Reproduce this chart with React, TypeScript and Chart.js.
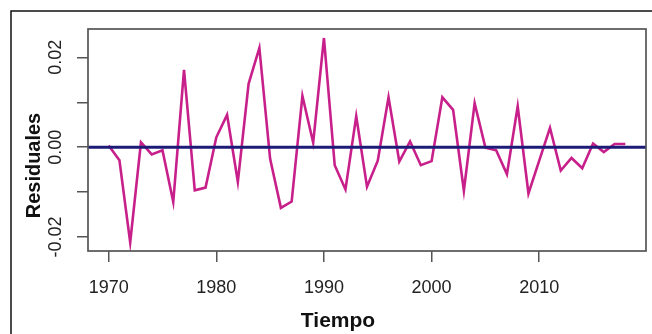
import React, { useEffect, useRef } from "react";
import { Chart, registerables } from "chart.js";

Chart.register(...registerables);

const years = [
  1970, 1971, 1972, 1973, 1974, 1975, 1976, 1977, 1978, 1979,
  1980, 1981, 1982, 1983, 1984, 1985, 1986, 1987, 1988, 1989,
  1990, 1991, 1992, 1993, 1994, 1995, 1996, 1997, 1998, 1999,
  2000, 2001, 2002, 2003, 2004, 2005, 2006, 2007, 2008, 2009,
  2010, 2011, 2012, 2013, 2014, 2015, 2016, 2017, 2018,
];

const residuals = [
  0.0004, -0.0029, -0.0212, 0.0011, -0.0016, -0.0007, -0.0122, 0.0172, -0.0096, -0.009,
  0.0022, 0.0072, -0.0077, 0.0141, 0.0221, -0.0026, -0.0135, -0.0121, 0.0114, 0.001,
  0.0243, -0.004, -0.0094, 0.0069, -0.0088, -0.003, 0.0111, -0.0032, 0.0013, -0.004,
  -0.0031, 0.0111, 0.0083, -0.0097, 0.0098, -0.0001, -0.0007, -0.006, 0.0091, -0.0103,
  -0.003, 0.0043, -0.0052, -0.0024, -0.0047, 0.0008, -0.0011, 0.0007, 0.0007,
];

const xTicks = [1970, 1980, 1990, 2000, 2010];
const xTickLabels = ["1970", "1980", "1990", "2000", "2010"];
const yTicks = [-0.02, -0.01, 0, 0.01, 0.02];
const yTickLabels = ["-0.02", "", "0.00", "", "0.02"];
const xTitle = "Tiempo";
const yTitle = "Residuales";

const W = 652;
const H = 334;

export default function App() {
  const ref = useRef<HTMLCanvasElement | null>(null);

  useEffect(() => {
    const canvas = ref.current;
    if (!canvas) return;

    const overlay = {
      id: "rOverlay",
      afterDatasetsDraw(chart: any) {
        const ctx = chart.ctx;
        const { left, right, top, bottom } = chart.chartArea;
        const ys = chart.scales.y;
        // abline h = 0
        const y0 = ys.getPixelForValue(0);
        ctx.save();
        ctx.strokeStyle = "#1c1c78";
        ctx.lineWidth = 3;
        ctx.beginPath();
        ctx.moveTo(left, y0);
        ctx.lineTo(right, y0);
        ctx.stroke();
        ctx.restore();
        // plot box
        ctx.save();
        ctx.strokeStyle = "#555555";
        ctx.lineWidth = 1.7;
        ctx.strokeRect(left, top, right - left, bottom - top);
        ctx.restore();
      },
      afterDraw(chart: any) {
        const ctx = chart.ctx;
        const xs = chart.scales.x;
        const ys = chart.scales.y;
        ctx.save();
        ctx.fillStyle = "#222222";
        ctx.font = '18px "Liberation Sans", Arial, sans-serif';
        ctx.textAlign = "center";
        ctx.textBaseline = "alphabetic";
        xTicks.forEach((v, i) => {
          ctx.fillText(xTickLabels[i], xs.getPixelForValue(v), 293);
        });
        yTicks.forEach((v, i) => {
          if (!yTickLabels[i]) return;
          ctx.save();
          ctx.translate(61, ys.getPixelForValue(v));
          ctx.rotate(-Math.PI / 2);
          ctx.fillText(yTickLabels[i], 0, 0);
          ctx.restore();
        });
        ctx.fillStyle = "#111111";
        ctx.font = 'bold 21px "Liberation Sans", Arial, sans-serif';
        ctx.fillText(xTitle, 338, 327);
        ctx.save();
        ctx.translate(40, 165.5);
        ctx.rotate(-Math.PI / 2);
        ctx.scale(0.95, 1);
        ctx.fillText(yTitle, 0, 0);
        ctx.restore();
        // outer frame
        ctx.strokeStyle = "#111111";
        ctx.lineWidth = 1.5;
        ctx.beginPath();
        ctx.moveTo(11, H + 2);
        ctx.lineTo(11, 11);
        ctx.lineTo(W + 2, 11);
        ctx.stroke();
        ctx.restore();
      },
    };

    const chart = new Chart(canvas, {
      type: "line",
      data: {
        datasets: [
          {
            data: years.map((yr, i) => ({ x: yr, y: residuals[i] })),
            borderColor: "#c8208a",
            borderWidth: 2.6,
            pointRadius: 0,
            tension: 0,
            fill: false,
          },
        ],
      },
      options: {
        responsive: false,
        animation: false,
        devicePixelRatio: 1,
        layout: { padding: { left: 0, top: 29, right: 6, bottom: 0 } },
        plugins: {
          legend: { display: false },
          tooltip: { enabled: false },
          title: { display: false },
        },
        scales: {
          x: {
            type: "linear",
            min: 1968.08,
            max: 2019.92,
            afterBuildTicks: (s: any) => {
              s.ticks = xTicks.map((v) => ({ value: v }));
            },
            afterFit: (s: any) => {
              s.height = 83;
            },
            ticks: { display: false },
            grid: {
              display: true,
              drawOnChartArea: false,
              drawTicks: true,
              tickLength: 11,
              color: "#555555",
              lineWidth: 1.5,
            },
            border: { display: false },
          },
          y: {
            type: "linear",
            min: -0.0231,
            max: 0.0263,
            afterBuildTicks: (s: any) => {
              s.ticks = yTicks.map((v) => ({ value: v }));
            },
            afterFit: (s: any) => {
              s.width = 88;
            },
            ticks: { display: false },
            grid: {
              display: true,
              drawOnChartArea: false,
              drawTicks: true,
              tickLength: 11,
              color: "#555555",
              lineWidth: 1.5,
            },
            border: { display: false },
          },
        },
      },
      plugins: [overlay],
    });

    return () => chart.destroy();
  }, []);

  return (
    <div style={{ position: "fixed", left: 0, top: 0, width: W, height: H, background: "#ffffff" }}>
      <canvas ref={ref} width={W} height={H} style={{ display: "block", width: W, height: H }} />
    </div>
  );
}
